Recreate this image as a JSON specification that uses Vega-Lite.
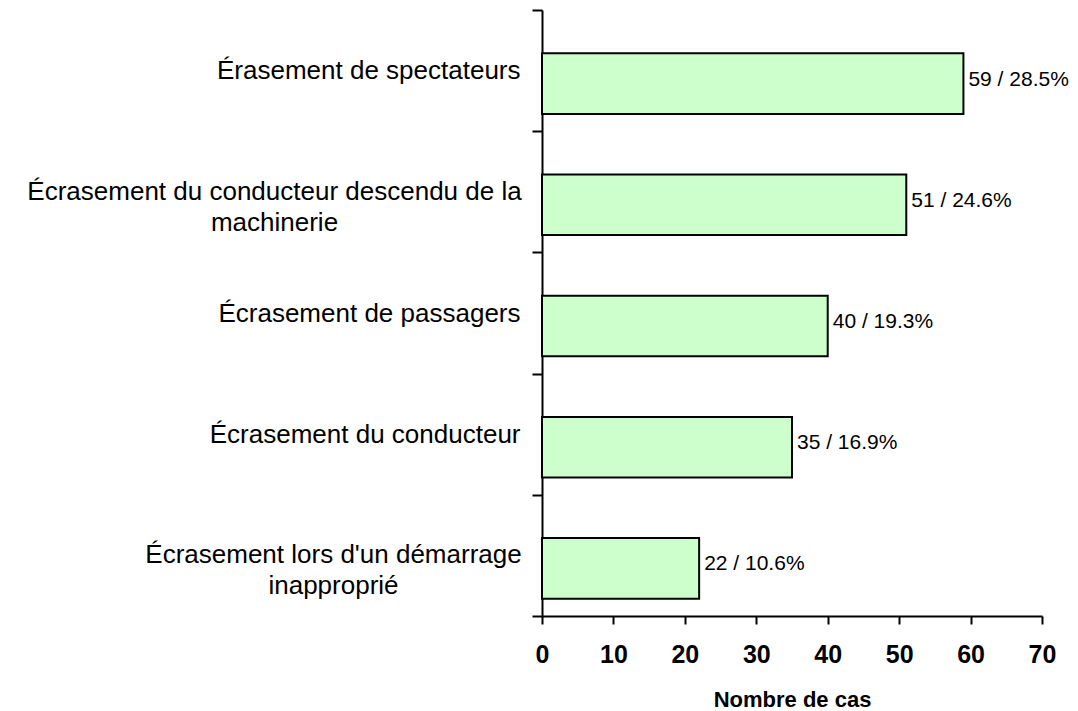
{
  "$schema": "https://vega.github.io/schema/vega-lite/v6.json",
  "autosize": {"type": "none"},
  "width": 500,
  "height": 606,
  "padding": {"left": 542, "top": 10, "right": 36, "bottom": 95},
  "background": "white",
  "config": {
    "view": {"stroke": null},
    "font": "Liberation Sans",
    "axis": {"domainColor": "black", "tickColor": "black", "domainWidth": 2, "tickWidth": 2, "labelColor": "black", "titleColor": "black", "grid": false, "labelFont": "Liberation Sans", "titleFont": "Liberation Sans", "labelFontSize": 26, "labelLineHeight": 31, "labelLimit": 600}
  },
  "data": {
    "values": [
      {"cause": "Érasement de spectateurs", "cas": 59, "texte": "59 / 28.5%"},
      {"cause": "Écrasement du conducteur descendu de la\nmachinerie", "cas": 51, "texte": "51 / 24.6%"},
      {"cause": "Écrasement de passagers", "cas": 40, "texte": "40 / 19.3%"},
      {"cause": "Écrasement du conducteur", "cas": 35, "texte": "35 / 16.9%"},
      {"cause": "Écrasement lors d'un démarrage\ninapproprié", "cas": 22, "texte": "22 / 10.6%"}
    ]
  },
  "encoding": {
    "x": {
      "field": "cas",
      "type": "quantitative",
      "scale": {"domain": [0, 70], "nice": false},
      "axis": {
        "title": "Nombre de cas",
        "values": [0, 10, 20, 30, 40, 50, 60, 70],
        "tickSize": 8,
        "labelFlush": false,
        "labelPadding": 18,
        "labelFontSize": 25,
        "labelFontWeight": "bold",
        "titleFontSize": 22,
        "titleFontWeight": "bold",
        "titlePadding": 22
      }
    }
  },
  "resolve": {"axis": {"y": "independent"}},
  "layer": [
    {
      "mark": {"type": "bar", "height": {"band": 0.5}, "yOffset": 13, "fill": "#ccffcc", "stroke": "black", "strokeWidth": 2},
      "encoding": {
        "y": {
          "field": "cause",
          "type": "nominal",
          "sort": null,
          "scale": {"paddingInner": 0, "paddingOuter": 0},
          "axis": {
            "orient": "left",
            "title": null,
            "tickBand": "extent",
            "tickSize": 10,
            "labelPadding": 12,
            "labelExpr": "indexof(datum.label, '\\n') >= 0 ? '' : datum.label"
          }
        }
      }
    },
    {
      "transform": [{"filter": "datum.cas >= 40"}],
      "mark": {"type": "text", "align": "left", "baseline": "middle", "dx": 5, "yOffset": 9, "fontSize": 21, "font": "Liberation Sans", "color": "black"},
      "encoding": {
        "y": {
          "field": "cause",
          "type": "nominal",
          "sort": null,
          "axis": {
            "orient": "left",
            "title": null,
            "domain": false,
            "ticks": false,
            "tickSize": 0,
            "labelAlign": "center",
            "labelPadding": 268,
            "labelExpr": "indexof(datum.label, 'machinerie') >= 0 ? split(datum.label, '\\n') : ''"
          }
        },
        "text": {"field": "texte"}
      }
    },
    {
      "transform": [{"filter": "datum.cas < 40"}],
      "mark": {"type": "text", "align": "left", "baseline": "middle", "dx": 5, "yOffset": 9, "fontSize": 21, "font": "Liberation Sans", "color": "black"},
      "encoding": {
        "y": {
          "field": "cause",
          "type": "nominal",
          "sort": null,
          "axis": {
            "orient": "left",
            "title": null,
            "domain": false,
            "ticks": false,
            "tickSize": 0,
            "labelAlign": "center",
            "labelPadding": 209,
            "labelExpr": "indexof(datum.label, 'inappropri') >= 0 ? split(datum.label, '\\n') : ''"
          }
        },
        "text": {"field": "texte"}
      }
    }
  ]
}
